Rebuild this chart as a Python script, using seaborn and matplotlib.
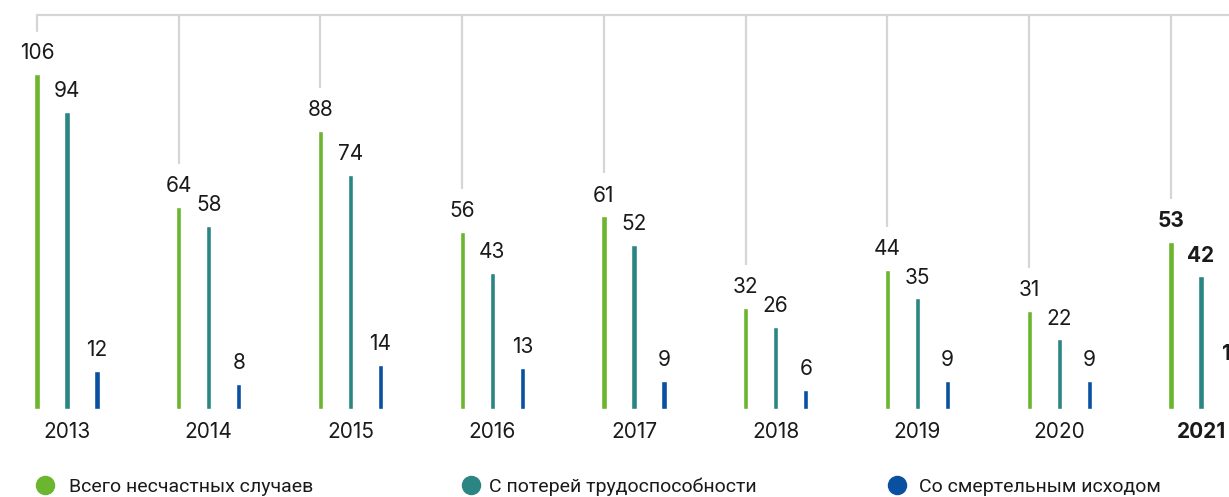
import matplotlib
matplotlib.use("Agg")
import matplotlib.pyplot as plt
import seaborn as sns
import pandas as pd
from matplotlib.lines import Line2D

# Accident statistics by year
years = ["2013", "2014", "2015", "2016", "2017", "2018", "2019", "2020", "2021"]
total = [106, 64, 88, 56, 61, 32, 44, 31, 53]
disability = [94, 58, 74, 43, 52, 26, 35, 22, 42]
fatal = [12, 8, 14, 13, 9, 6, 9, 9, 11]

series_names = ["Всего несчастных случаев", "С потерей трудоспособности", "Со смертельным исходом"]
colors = ["#6cb52f", "#2b8683", "#0a50a1"]
series_values = [total, disability, fatal]

df = pd.DataFrame({
    "year": years * 3,
    "value": total + disability + fatal,
    "series": [name for name in series_names for _ in years],
})

sns.set_style("white")
plt.rcParams["font.family"] = ["Inter", "DejaVu Sans"]

W, H = 1229, 497
fig = plt.figure(figsize=(W / 100, H / 100), dpi=100)
base_px = 409          # baseline, pixels from top
px_per_unit = 3.16
ax = fig.add_axes([0, (H - base_px) / H, 1, base_px / H])

sns.barplot(data=df, x="year", y="value", hue="series", hue_order=series_names,
            palette=colors, width=0.635, gap=0.83, saturation=1,
            legend=False, ax=ax)

group_px = 141.75
ax.set_xlim(-67 / group_px, 8 + (W - 1201) / group_px)
ax.set_ylim(0, base_px / px_per_unit)
ax.axis("off")

label_size = 15
last = len(years) - 1
green_x = []
for ci, (container, vals) in enumerate(zip(ax.containers, series_values)):
    for j, (patch, v) in enumerate(zip(container.patches, vals)):
        x = patch.get_x() + patch.get_width() / 2
        if ci == 0:
            green_x.append(x)
        ax.annotate(str(v), xy=(x, v), xytext=(0, 10.6), textcoords="offset points",
                    ha="center", va="baseline", fontsize=label_size, color="#1a1a1a",
                    fontweight="bold" if j == last else "normal",
                    annotation_clip=False)

# Year labels under each group
for j, y in enumerate(years):
    ax.annotate(y, xy=(j, 0), xytext=(0, -21.2), textcoords="offset points",
                ha="center", va="baseline", fontsize=label_size, color="#1a1a1a",
                fontweight="bold" if j == last else "normal",
                annotation_clip=False)

# Connector lines from the top rule down to each group
line_color = "#d5d5d5"
top_y = (base_px - 15) / px_per_unit
gap_units = 43 / px_per_unit
ax.plot([green_x[0], green_x[0], 9.5], [total[0] + gap_units, top_y, top_y],
        color=line_color, lw=1.6, solid_joinstyle="miter", clip_on=False)
ax.vlines(green_x[1:], [v + gap_units for v in total[1:]], top_y,
          color=line_color, lw=1.6)

# Legend entries placed in three columns
legend_x = [35.3, 461.3, 886.8]
legend_pad = [0.75, 0.45, 0.68]
for name, color, lx, pad in zip(series_names, colors, legend_x, legend_pad):
    handle = Line2D([], [], linestyle="none", marker="o", markersize=13,
                    markerfacecolor=color, markeredgecolor=color)
    leg = fig.legend(handles=[handle], labels=[name], loc="center left",
                     bbox_to_anchor=(lx / W, 1 - 487 / H), frameon=False,
                     borderpad=0, borderaxespad=0, handlelength=1.0,
                     handletextpad=pad,
                     prop={"family": ["Roboto", "DejaVu Sans"], "size": 14})
    for t in leg.get_texts():
        t.set_color("#1a1a1a")

fig.savefig("out.png", dpi=100)
